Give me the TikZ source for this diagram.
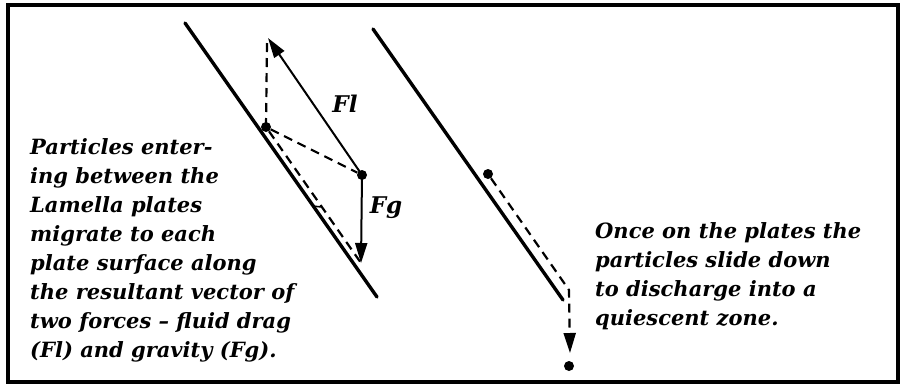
\documentclass[tikz,border=0pt]{standalone}
\usepackage{fontspec}
\setmainfont{DejaVu Serif}
\usepackage{tikz}
\usetikzlibrary{arrows.meta,positioning}

\begin{document}
\begin{tikzpicture}[
    x=1pt, y=-1pt,
    plate/.style={line width=3.4pt, line cap=round},
    force/.style={line width=2pt, -{Triangle[length=20pt,width=12pt]}},
    drift/.style={line width=2.2pt, dash pattern=on 9pt off 6pt},
    dot/.style={circle, fill, inner sep=0pt, minimum size=10pt},
    caption/.style={align=left, anchor=north west, inner sep=0pt,
        font=\fontsize{21}{29}\selectfont\bfseries\itshape},
    lbl/.style={inner sep=0pt, font=\fontsize{23}{28}\selectfont\bfseries\itshape}
]
\useasboundingbox (0,0) rectangle (902,391);
\draw[line width=3.5pt] (8,5) rectangle (898,382);

% plates
\coordinate (lp top) at (185,23);
\coordinate (lp bot) at (377,297);
\coordinate (rp top) at (373,29);
\coordinate (rp bot) at (563,300);
\draw[plate] (lp top) -- (lp bot);
\draw[plate] (rp top) -- (rp bot);

% force diagram on the left plate
\node[dot] (p) at (266,127) {};
\node[dot] (q) at (362,175) {};
\coordinate (fl tip) at (268,38);
\coordinate (fg tip) at (361,263);
\draw[force] (q.center) -- (fl tip);
\draw[force] (q.center) -- (fg tip);
\draw[drift] (p.center) -- (267,42);
\draw[drift] (p) -- (q);
\draw[drift] (p) -- (fg tip);
\draw[line width=1.5pt] (313,206) -- (321,207);
\node[lbl] (fl) at (345,104) {Fl};
\node[lbl] (fg) at (386,208) {Fg};

% sliding particle on the right plate
\node[dot] (r) at (488,174) {};
\coordinate (bend) at (569,290);
\coordinate (drop tip) at (570,353);
\node[dot] (sink) at (569,366) {};
\draw[drift, -{Triangle[length=20pt,width=12pt]}] (r) -- (bend) -- (drop tip);

% captions
\node[caption] (left text) at (30,138) {Particles enter-\\ing between the\\Lamella plates\\migrate to each\\plate surface along\\the resultant vector of\\two forces -- fluid drag\\(Fl) and gravity (Fg).};
\node[caption] (right text) at (595,222) {Once on the plates the\\particles slide down\\to discharge into a\\quiescent zone.};
\end{tikzpicture}
\end{document}
